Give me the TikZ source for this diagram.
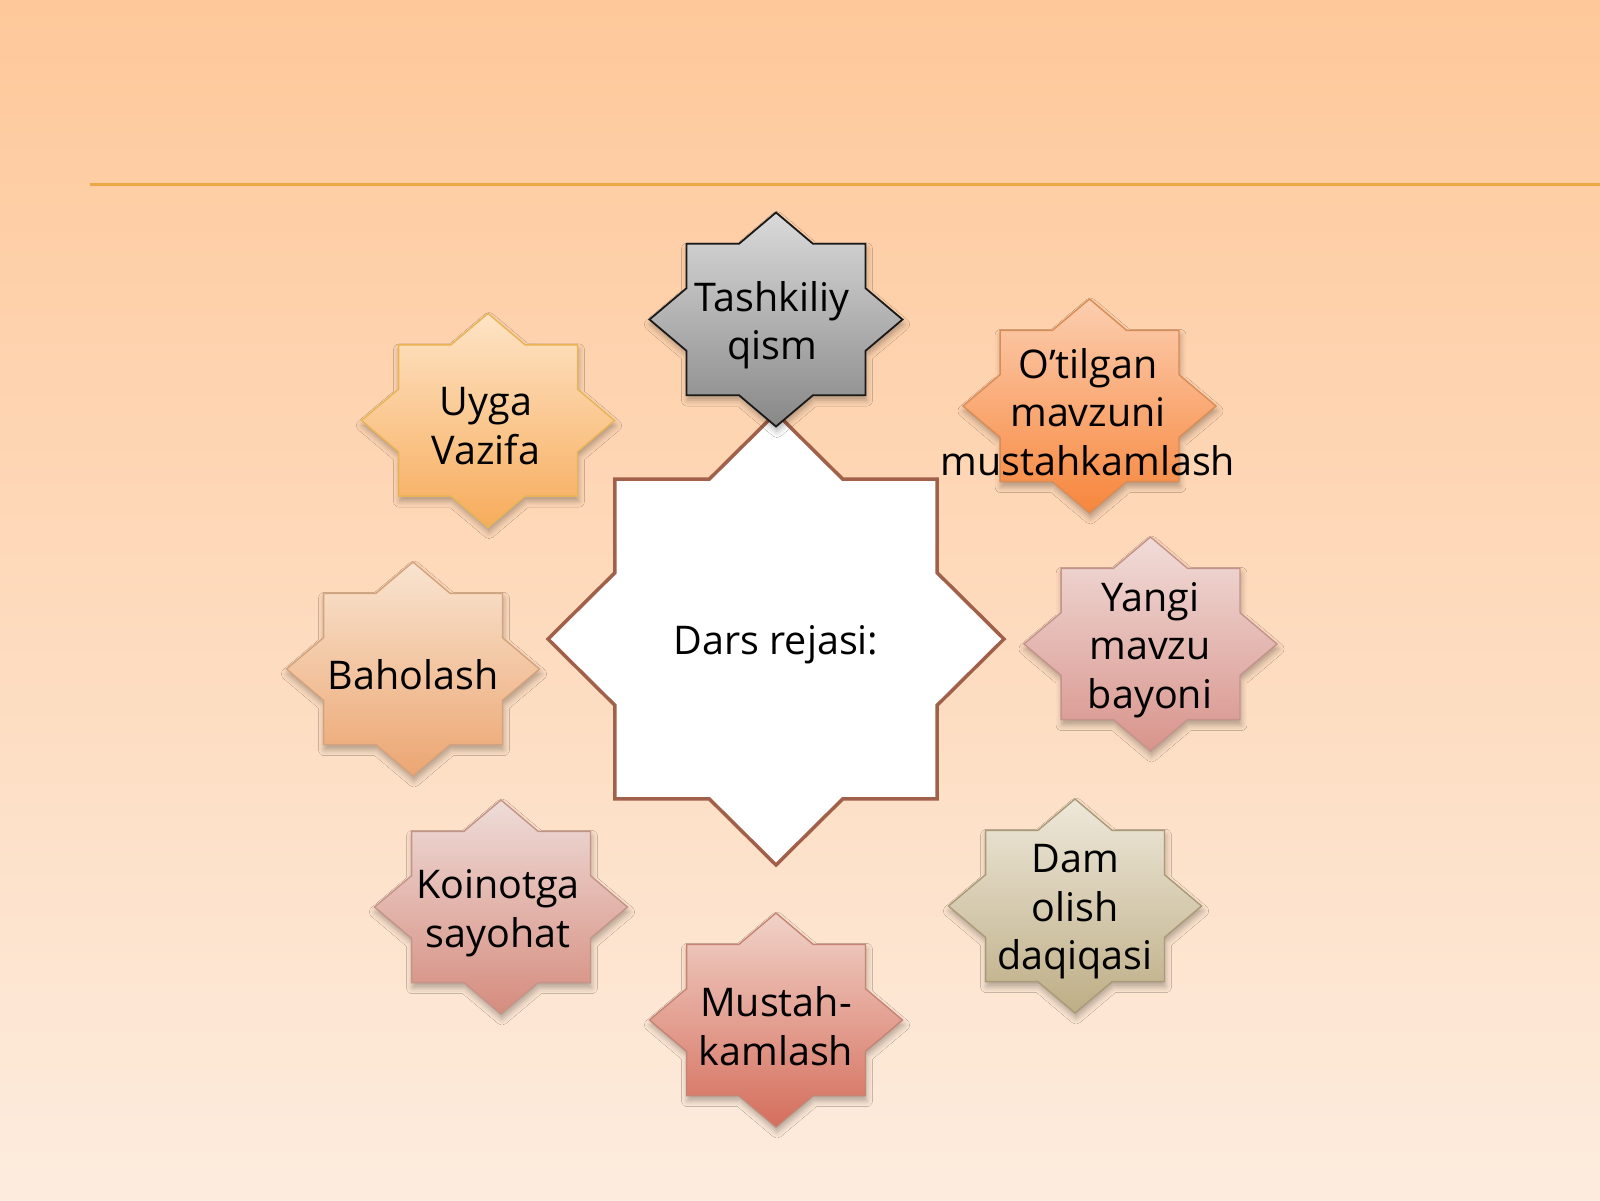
\documentclass[tikz,border=0pt]{standalone}
\usepackage{fontspec}
\setmainfont{Open Sans}
\usetikzlibrary{shadows.blur}

\definecolor{bgtop}{RGB}{254,200,154}
\definecolor{bgbot}{RGB}{253,236,222}
\definecolor{rulecol}{RGB}{236,166,68}
\definecolor{centerline}{RGB}{160,96,74}

\newcommand\octstar[5]{% #1 style, #2 cx, #3 cy, #4 rx, #5 ry
  \path[#1] ({#2+#4},{#3})
  \foreach \a in {22.5,67.5,...,292.5}{
    -- ({#2+0.7654*#4*cos(\a)},{#3+0.7654*#5*sin(\a)})
    -- ({#2+#4*cos(\a+22.5)},{#3+#5*sin(\a+22.5)})
  }
  -- ({#2+0.7654*#4*cos(337.5)},{#3+0.7654*#5*sin(337.5)}) -- cycle;}

\tikzset{
  starbase/.style={line width=1.4pt, line join=miter,
    blur shadow={shadow xshift=1pt, shadow yshift=-5pt,
      shadow blur radius=6pt, shadow opacity=30}},
  grayst/.style={starbase, draw=black!90, line width=1.8pt,
    top color={rgb,255:red,218;green,218;blue,218},
    bottom color={rgb,255:red,136;green,136;blue,136}},
  otst/.style={starbase, draw={rgb,255:red,217;green,140;blue,85},
    top color={rgb,255:red,252;green,206;blue,176},
    bottom color={rgb,255:red,247;green,134;blue,60}},
  uyst/.style={starbase, draw={rgb,255:red,233;green,180;blue,85},
    top color={rgb,255:red,254;green,228;blue,198},
    bottom color={rgb,255:red,247;green,172;blue,92}},
  bast/.style={starbase, draw={rgb,255:red,212;green,162;blue,124},
    top color={rgb,255:red,249;green,228;blue,208},
    bottom color={rgb,255:red,236;green,166;blue,114}},
  kost/.style={starbase, draw={rgb,255:red,196;green,148;blue,136},
    top color={rgb,255:red,238;green,220;blue,216},
    bottom color={rgb,255:red,214;green,140;blue,126}},
  must/.style={starbase, draw={rgb,255:red,197;green,133;blue,116},
    top color={rgb,255:red,241;green,210;blue,200},
    bottom color={rgb,255:red,213;green,110;blue,92}},
  damst/.style={starbase, draw={rgb,255:red,169;green,154;blue,120},
    top color={rgb,255:red,238;green,232;blue,218},
    bottom color={rgb,255:red,190;green,174;blue,134}},
  yast/.style={starbase, draw={rgb,255:red,196;green,147;blue,140},
    top color={rgb,255:red,241;green,220;blue,216},
    bottom color={rgb,255:red,216;green,148;blue,140}},
  centst/.style={draw=centerline, line width=3.5pt, line join=miter, fill=white},
  lbl/.style={align=center, inner sep=0pt, text=black,
    font=\fontsize{39.5}{48.5}\selectfont}
}

\begin{document}
\begin{tikzpicture}[x=1pt,y=-1pt]
\useasboundingbox (0,0) rectangle (1600,1200);
\fill[top color=bgtop, bottom color=bgbot] (0,0) rectangle (1600,1200);
\draw[rulecol, line width=3pt] (90,184) -- (1600,184);

% central star
\octstar{centst}{776}{639}{228}{226}
\node[lbl] (center) at (776,645) {Dars rejasi:};

% surrounding stars
\octstar{grayst}{776}{319.5}{126.5}{107}
\node[lbl] (tashkiliy) at (772,325) {Tashkiliy\\qism};

\octstar{otst}{1089.5}{406}{126.5}{107}
\node[lbl] (otilgan) at (1088,412) {O’tilgan\\mavzuni\\mustahkamlash};

\octstar{yast}{1150.5}{644}{126.5}{107}
\node[lbl] (yangi) at (1150,650) {Yangi\\mavzu\\bayoni};

\octstar{damst}{1075}{906}{126.5}{107}
\node[lbl] (dam) at (1075,912) {Dam\\olish\\daqiqasi};

\octstar{must}{776}{1020}{126.5}{107}
\node[lbl] (mustah) at (776,1026) {Mustah-\\kamlash};

\octstar{kost}{501}{907}{126.5}{107}
\node[lbl] (koinot) at (498,913) {Koinotga\\sayohat};

\octstar{bast}{413}{669}{126.5}{107}
\node[lbl] (baholash) at (413,675) {Baholash};

\octstar{uyst}{488}{420.5}{126.5}{107}
\node[lbl] (uyga) at (486,426) {Uyga\\Vazifa};
\end{tikzpicture}
\end{document}
